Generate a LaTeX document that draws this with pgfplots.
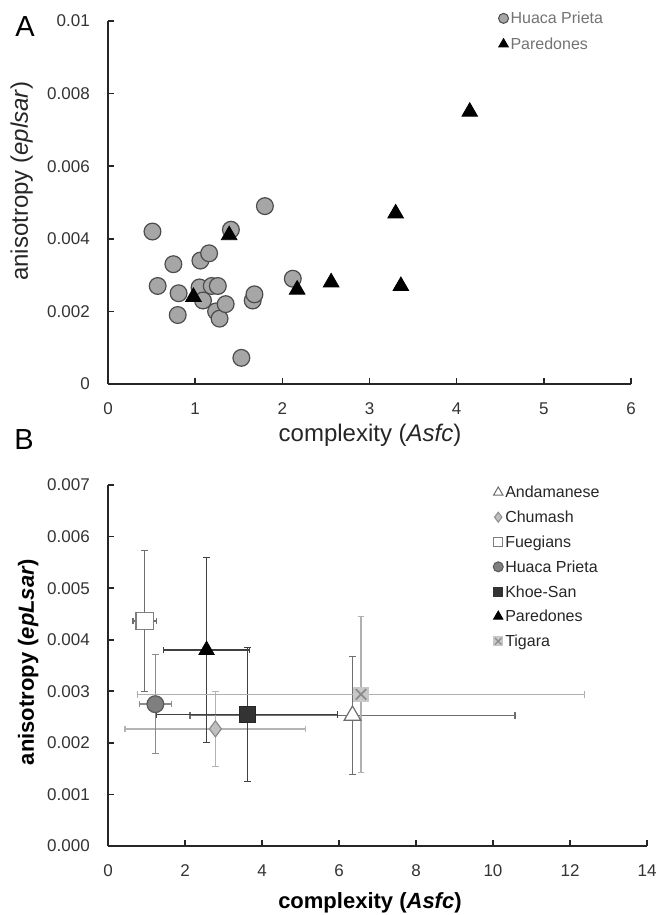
\documentclass[border=0pt]{standalone}
\usepackage{fontspec}
\setmainfont{Liberation Sans}
\usepackage{pgfplots}
\pgfplotsset{compat=1.18}

\definecolor{hpA}{HTML}{A6A6A6}
\definecolor{andD}{HTML}{6E6E6E}
\definecolor{chuF}{HTML}{BFBFBF}
\definecolor{chuD}{HTML}{8C8C8C}
\definecolor{chuE}{HTML}{B4B4B4}
\definecolor{fueD}{HTML}{7F7F7F}
\definecolor{hpF}{HTML}{7F7F7F}
\definecolor{hpD}{HTML}{595959}
\definecolor{hpE}{HTML}{8C8C8C}
\definecolor{khoF}{HTML}{333333}
\definecolor{darkE}{HTML}{404040}
\definecolor{tigF}{HTML}{C8C8C8}
\definecolor{tigD}{HTML}{8C8C8C}
\definecolor{tigE}{HTML}{B0B0B0}

\pgfplotsset{
  panel/.style={
    scale only axis, anchor=south west, clip=false,
    axis lines*=left,
    axis line style={line width=0.9pt,black!85},
    tick align=inside, major tick length=3pt,
    tick style={line width=0.8pt,black!85},
    /pgf/number format/assume math mode=true,
    scaled y ticks=false,
    tick label style={font=\fontsize{8.5}{10}\selectfont,text=black!80},
    xticklabel style={yshift=-5.8pt},
    yticklabel style={xshift=-5.6pt},
    legend cell align=left,
    legend image code/.code={\draw[##1] plot coordinates {(0.1cm,0cm)};},
  },
  errs/.style={error bars/.cd, x dir=both, y dir=both, x explicit, y explicit,
    error bar style={#1,line width=0.7pt},
    error mark options={rotate=90,#1,mark size=1.6pt,line width=0.6pt}},
}

\begin{document}
\begin{tikzpicture}[x=1pt,y=1pt]
\useasboundingbox (0,0) rectangle (329,457.5);

% ---------- panel A
\begin{axis}[panel,
  at={(54pt,265.5pt)}, width=261.5pt, height=181.5pt,
  xmin=0,xmax=6,ymin=0,ymax=0.01,
  xtick={0,1,2,3,4,5,6},
  ytick={0,0.002,0.004,0.006,0.008,0.01},
  yticklabels={0,0.002,0.004,0.006,0.008,0.01},
  xlabel={complexity (\textit{Asfc})},
  ylabel={anisotropy (\textit{eplsar})},
  xlabel style={at={(axis description cs:0.501,-0.140)},anchor=center,
    font=\fontsize{12}{14}\selectfont,text=black!85},
  ylabel style={at={(axis description cs:-0.165,0.559)},anchor=center,
    font=\fontsize{12}{14}\selectfont,text=black!85},
  legend style={at={(0.746,1.040)},anchor=north west,draw=none,fill=none,
    inner sep=0pt,row sep=1.4pt,font=\fontsize{8}{9.6}\selectfont,text=black!55,
    nodes={inner sep=1pt,text height=0.75em,text depth=0.2em}},
]
\addlegendimage{only marks,mark=*,mark size=2.5pt,mark options={fill=hpA,draw=black!70,line width=0.5pt}}
\addlegendentry{Huaca Prieta}
\addlegendimage{only marks,mark=triangle*,mark size=2.8pt,mark options={fill=black,draw=black}}
\addlegendentry{Paredones}

\addplot[only marks,mark=*,mark size=4.2pt,
  mark options={fill=hpA,draw=black!70,line width=0.6pt},forget plot] table {
x y
0.51 0.0042
0.57 0.0027
0.75 0.0033
0.81 0.0025
0.80 0.0019
1.06 0.0034
1.16 0.0036
1.05 0.00266
1.09 0.0023
1.19 0.0027
1.26 0.0027
1.24 0.0020
1.28 0.0018
1.35 0.0022
1.41 0.00425
1.53 0.00072
1.66 0.0023
1.68 0.00247
1.80 0.0049
2.12 0.0029
};
\addplot[only marks,mark=triangle*,mark size=4.5pt,
  mark options={fill=black,draw=black,line width=0.4pt},forget plot] table {
x y
0.98 0.0024
1.39 0.0041
2.17 0.0026
2.56 0.0028
3.30 0.0047
3.36 0.0027
4.15 0.0075
};
\end{axis}

% ---------- panel B
\begin{axis}[panel,
  at={(54pt,34.5pt)}, width=269.5pt, height=180.5pt,
  xmin=0,xmax=14,ymin=0,ymax=0.007,
  xtick={0,2,4,6,8,10,12,14},
  ytick={0,0.001,0.002,0.003,0.004,0.005,0.006,0.007},
  yticklabels={0.000,0.001,0.002,0.003,0.004,0.005,0.006,0.007},
  xlabel={\textbf{complexity (\textit{Asfc})}},
  ylabel={\textbf{anisotropy (\textit{epLsar})}},
  xlabel style={at={(axis description cs:0.486,-0.158)},anchor=center,
    font=\fontsize{11}{13}\selectfont,text=black},
  ylabel style={at={(axis description cs:-0.148,0.51)},anchor=center,
    font=\fontsize{11}{13}\selectfont,text=black},
  legend style={at={(0.714,1.0125)},anchor=north west,draw=none,fill=none,
    inner sep=0pt,row sep=0.9pt,font=\fontsize{8}{9.6}\selectfont,text=black!85,
    nodes={inner sep=1pt,text height=0.75em,text depth=0.2em}},
]
\addlegendimage{only marks,mark=triangle*,mark size=2.7pt,mark options={fill=white,draw=andD,line width=0.5pt}}
\addlegendentry{Andamanese}
\addlegendimage{only marks,mark=diamond*,mark size=2.5pt,mark options={fill=chuF,draw=chuD,line width=0.5pt}}
\addlegendentry{Chumash}
\addlegendimage{only marks,mark=square*,mark size=2.3pt,mark options={fill=white,draw=fueD,line width=0.5pt}}
\addlegendentry{Fuegians}
\addlegendimage{only marks,mark=*,mark size=2.5pt,mark options={fill=hpF,draw=hpD,line width=0.5pt}}
\addlegendentry{Huaca Prieta}
\addlegendimage{only marks,mark=square*,mark size=2.3pt,mark options={fill=khoF,draw=khoF}}
\addlegendentry{Khoe-San}
\addlegendimage{only marks,mark=triangle*,mark size=2.7pt,mark options={fill=black,draw=black}}
\addlegendentry{Paredones}
\addlegendimage{legend image code/.code={
  \draw[only marks,mark=square*,mark size=2.3pt,mark options={fill=tigF,draw=tigF}] plot coordinates {(0.1cm,0cm)};
  \draw[only marks,mark=x,mark size=2.3pt,mark options={draw=tigD,line width=0.6pt}] plot coordinates {(0.1cm,0cm)};}}
\addlegendentry{Tigara}

% Andamanese
\addplot[only marks,mark=triangle*,mark size=4.8pt,forget plot,
  mark options={fill=white,draw=andD,line width=0.6pt},errs=andD]
  coordinates {(6.35,0.00253) +- (4.22,0.00115)};
% Chumash
\addplot[only marks,mark=diamond*,mark size=4.0pt,forget plot,
  mark options={fill=chuF,draw=chuD,line width=0.6pt},errs=chuE]
  coordinates {(2.79,0.00227) +- (2.35,0.00073)};
% Fuegians
\addplot[only marks,mark=square*,mark size=4.3pt,forget plot,
  mark options={fill=white,draw=fueD,line width=0.6pt},errs=andD]
  coordinates {(0.95,0.00436) +- (0.30,0.00137)};
% Huaca Prieta
\addplot[only marks,mark=*,mark size=4.2pt,forget plot,
  mark options={fill=hpF,draw=hpD,line width=0.6pt},errs=hpE]
  coordinates {(1.23,0.00275) +- (0.41,0.00096)};
% Khoe-San
\addplot[only marks,mark=square*,mark size=4.0pt,forget plot,
  mark options={fill=khoF,draw=black!85,line width=0.5pt},errs=darkE]
  coordinates {(3.62,0.00255) +- (2.35,0.00130)};
% Paredones
\addplot[only marks,mark=triangle*,mark size=4.4pt,forget plot,
  mark options={fill=black,draw=black,line width=0.4pt},errs=darkE]
  coordinates {(2.56,0.00380) +- (1.12,0.00180)};
% Tigara
\addplot[only marks,mark=square*,mark size=3.7pt,forget plot,
  mark options={fill=tigF,draw=tigF},errs=tigE]
  coordinates {(6.57,0.00294) +- (5.81,0.00151)};
\addplot[only marks,mark=x,mark size=3.7pt,forget plot,
  mark options={draw=tigD,line width=0.9pt}]
  coordinates {(6.57,0.00294)};
\end{axis}

\node[font=\fontsize{14.5}{16}\selectfont] at (12.5,444) {A};
\node[font=\fontsize{14.5}{16}\selectfont] at (12,237.5) {B};
\end{tikzpicture}
\end{document}
